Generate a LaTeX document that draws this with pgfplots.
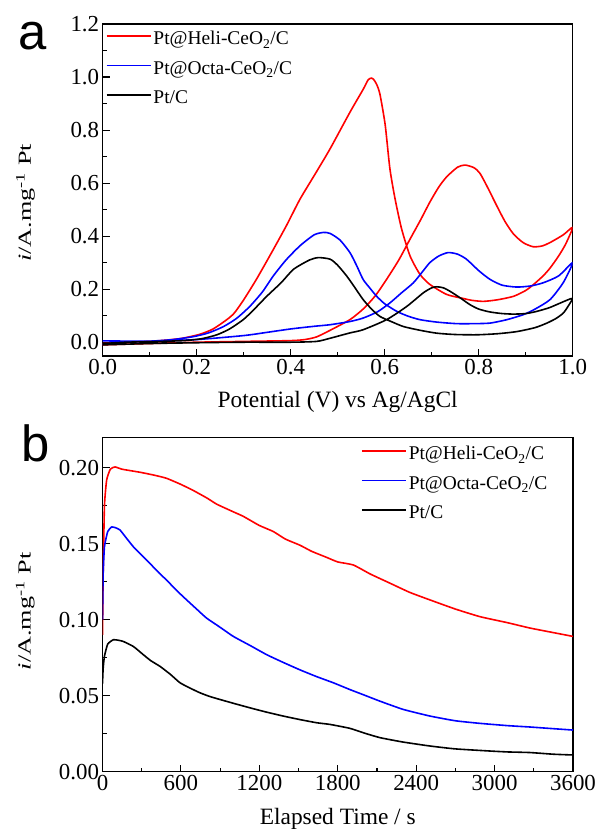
\documentclass[border=0pt]{standalone}
\usepackage{fontspec}
\setmainfont{Liberation Serif}
\setsansfont{Liberation Sans}
\usepackage{pgfplots}
\pgfplotsset{compat=1.18}

\newcommand\tickfont{\fontsize{23}{27}\selectfont}
\newcommand\labfont{\fontsize{23.5}{27}\selectfont}
\newcommand\legfont{\fontsize{19.5}{23}\selectfont}
\newcommand\ylab{\scalebox{1.42}[1]{\fontsize{18.5}{22}\selectfont\textit{i}/A.mg\textsuperscript{-1} Pt}}

\definecolor{cred}{RGB}{255,0,0}
\definecolor{cblue}{RGB}{0,0,255}

\pgfplotsset{
  myax/.style={
    scale only axis, width=470bp,
    axis line style={line width=1.3bp},
    tick style={line width=1.1bp, black},
    major tick length=7bp, minor tick length=4bp,
    tick align=inside, tick pos=left,
    ticklabel style={font=\tickfont},
    /pgf/number format/assume math mode=true,
    every axis plot/.append style={line width=1.6bp},
    legend style={draw=none, fill=none, font=\legfont, cells={anchor=west}, row sep=11bp},
    legend image code/.code={\draw[##1, line width=1.6bp, sharp plot] (0bp,0.3em) -- (44bp,0.3em);},
    xlabel style={font=\labfont, at={(axis description cs:0.5,0)}, anchor=base},
    ylabel style={anchor=base},
  }
}

\begin{document}
\begin{tikzpicture}
\useasboundingbox (0,0) rectangle (598bp,831bp);

\node[anchor=base west, inner sep=0pt] at (18bp,781bp) {\fontsize{51}{51}\selectfont\sffamily a};
\node[anchor=base west, inner sep=0pt] at (21.5bp,369.3bp) {\fontsize{51}{51}\selectfont\sffamily b};

% ---------------- panel a ----------------
\begin{axis}[myax,
  at={(102.7bp,475bp)}, anchor=south west, height=332bp,
  xmin=0, xmax=1, ymin=-0.052, ymax=1.2,
  xtick={0,0.2,0.4,0.6,0.8,1.0}, minor x tick num=1,
  ytick={0,0.2,0.4,0.6,0.8,1.0,1.2}, minor y tick num=1,
  xticklabel style={/pgf/number format/.cd, fixed, fixed zerofill, precision=1},
  yticklabel style={/pgf/number format/.cd, fixed, fixed zerofill, precision=1},
  xlabel={Potential (V) vs Ag/AgCl},
  xlabel style={yshift=-52bp},
  ylabel={\ylab},
  ylabel style={at={(axis description cs:-0.1526,0.461)}},
  legend style={at={(axis description cs:0.0,0.99)}, anchor=north west},
]
\addplot[cred, smooth, tension=0.4] coordinates {
(0,-0.01)(0.1,-0.005)(0.2,0.0)(0.3,0.003)(0.4,0.006)(0.43,0.01)(0.455,0.02)(0.484,0.045)(0.526,0.085)(0.554,0.125)(0.58,0.175)(0.604,0.237)(0.63,0.31)(0.654,0.389)(0.676,0.46)(0.696,0.528)(0.715,0.585)(0.732,0.624)(0.755,0.66)(0.771,0.668)(0.79,0.658)(0.803,0.636)(0.82,0.58)(0.838,0.516)(0.856,0.455)(0.874,0.408)(0.895,0.375)(0.916,0.36)(0.935,0.363)(0.952,0.376)(0.98,0.405)(1.0,0.433)
(0.985,0.37)(0.97,0.325)(0.952,0.28)(0.937,0.25)(0.915,0.215)(0.9,0.195)(0.874,0.173)(0.84,0.16)(0.81,0.154)(0.785,0.158)(0.767,0.165)(0.732,0.18)(0.696,0.218)(0.675,0.256)(0.654,0.325)(0.636,0.427)(0.622,0.541)(0.611,0.655)(0.601,0.82)(0.59,0.934)(0.583,0.972)(0.576,0.992)(0.572,0.996)(0.565,0.99)(0.554,0.953)(0.526,0.867)(0.484,0.73)(0.455,0.643)(0.42,0.54)(0.391,0.44)(0.36,0.34)(0.327,0.237)(0.3,0.16)(0.28,0.11)(0.264,0.085)(0.235,0.05)(0.207,0.03)(0.17,0.015)(0.136,0.008)(0.1,0.003)(0.05,0.0)(0,-0.005)
};
\addlegendentry{Pt@Heli-CeO\textsubscript{2}/C}
\addplot[cblue, smooth, tension=0.4] coordinates {
(0,0.005)(0.1,0.004)(0.2,0.01)(0.3,0.025)(0.349,0.037)(0.4,0.05)(0.45,0.06)(0.484,0.066)(0.526,0.078)(0.554,0.091)(0.585,0.115)(0.611,0.148)(0.635,0.185)(0.661,0.224)(0.68,0.265)(0.696,0.30)(0.715,0.325)(0.735,0.338)(0.755,0.332)(0.774,0.313)(0.8,0.27)(0.824,0.237)(0.85,0.215)(0.881,0.208)(0.91,0.212)(0.937,0.224)(0.97,0.25)(1.0,0.30)
(0.98,0.225)(0.952,0.161)(0.92,0.125)(0.895,0.104)(0.86,0.085)(0.824,0.072)(0.79,0.07)(0.753,0.07)(0.71,0.076)(0.675,0.085)(0.65,0.098)(0.626,0.116)(0.6,0.145)(0.583,0.173)(0.568,0.205)(0.554,0.237)(0.54,0.29)(0.526,0.338)(0.505,0.385)(0.484,0.41)(0.47,0.414)(0.45,0.405)(0.42,0.364)(0.39,0.31)(0.363,0.25)(0.34,0.19)(0.313,0.135)(0.285,0.09)(0.257,0.059)(0.225,0.035)(0.193,0.021)(0.15,0.01)(0.112,0.005)(0.05,0.0)(0,-0.008)
};
\addlegendentry{Pt@Octa-CeO\textsubscript{2}/C}
\addplot[black, smooth, tension=0.4] coordinates {
(0,-0.01)(0.1,-0.005)(0.2,-0.002)(0.3,0.0)(0.4,0.0)(0.455,0.003)(0.484,0.015)(0.526,0.035)(0.554,0.047)(0.604,0.085)(0.647,0.135)(0.682,0.186)(0.7,0.205)(0.711,0.209)(0.725,0.205)(0.739,0.192)(0.76,0.168)(0.781,0.142)(0.8,0.125)(0.824,0.114)(0.85,0.108)(0.874,0.106)(0.9,0.108)(0.923,0.116)(0.95,0.13)(0.97,0.145)(0.99,0.16)(1.0,0.165)
(0.99,0.135)(0.98,0.11)(0.965,0.09)(0.945,0.072)(0.92,0.055)(0.881,0.04)(0.84,0.032)(0.796,0.028)(0.75,0.029)(0.711,0.034)(0.675,0.045)(0.64,0.059)(0.615,0.077)(0.59,0.097)(0.572,0.125)(0.554,0.161)(0.535,0.21)(0.519,0.25)(0.5,0.29)(0.484,0.313)(0.459,0.319)(0.44,0.31)(0.406,0.275)(0.38,0.225)(0.349,0.173)(0.32,0.12)(0.299,0.085)(0.27,0.05)(0.243,0.028)(0.21,0.013)(0.172,0.006)(0.1,0.002)(0.05,0.0)(0,-0.005)
};
\addlegendentry{Pt/C}
\end{axis}

% ---------------- panel b ----------------
\begin{axis}[myax,
  at={(102.5bp,59.3bp)}, anchor=south west, height=334.4bp, width=470.5bp,
  xmin=0, xmax=3600, ymin=0, ymax=0.22,
  xtick={0,600,1200,1800,2400,3000,3600}, minor x tick num=1,
  ytick={0,0.05,0.10,0.15,0.20}, minor y tick num=1,
  xticklabel style={/pgf/number format/.cd, fixed, set thousands separator={}},
  yticklabel style={/pgf/number format/.cd, fixed, fixed zerofill, precision=2},
  scaled y ticks=false, scaled x ticks=false,
  xlabel={Elapsed Time / s},
  xlabel style={yshift=-53bp},
  ylabel={\ylab},
  ylabel style={at={(axis description cs:-0.1526,0.48)}},
  legend style={at={(axis description cs:0.543,0.985)}, anchor=north west},
]
\addplot[cred, smooth, tension=0.3] coordinates {
(0,0.09)(5,0.13)(15,0.175)(32,0.192)(60,0.199)(96,0.2005)(150,0.199)(287,0.197)(400,0.195)(491,0.193)(600,0.189)(695,0.185)(800,0.18)(874,0.176)(1000,0.171)(1077,0.168)(1200,0.162)(1307,0.158)(1400,0.153)(1511,0.149)(1600,0.145)(1715,0.141)(1800,0.138)(1919,0.136)(2050,0.13)(2200,0.124)(2350,0.118)(2506,0.113)(2700,0.107)(2888,0.102)(3100,0.098)(3271,0.0945)(3450,0.0915)(3600,0.089)
};
\addlegendentry{Pt@Heli-CeO\textsubscript{2}/C}
\addplot[cblue, smooth, tension=0.3] coordinates {
(0,0.10)(5,0.13)(15,0.148)(40,0.158)(70,0.161)(100,0.1605)(134,0.159)(180,0.154)(236,0.148)(300,0.1425)(363,0.137)(430,0.131)(491,0.126)(570,0.119)(644,0.113)(720,0.107)(797,0.101)(900,0.095)(1001,0.089)(1130,0.083)(1256,0.077)(1380,0.072)(1511,0.067)(1640,0.0625)(1766,0.0585)(1894,0.054)(2000,0.0505)(2123,0.0464)(2300,0.041)(2506,0.0366)(2700,0.0335)(2888,0.0318)(3100,0.0303)(3271,0.0294)(3450,0.0283)(3600,0.0274)
};
\addlegendentry{Pt@Octa-CeO\textsubscript{2}/C}
\addplot[black, smooth, tension=0.3] coordinates {
(0,0.058)(5,0.068)(15,0.076)(40,0.084)(83,0.0868)(120,0.0865)(159,0.0857)(236,0.0824)(312,0.077)(370,0.073)(440,0.0693)(520,0.064)(593,0.0585)(670,0.055)(746,0.0519)(820,0.0495)(899,0.0475)(1010,0.0448)(1129,0.042)(1250,0.0393)(1383,0.0366)(1510,0.0343)(1639,0.0322)(1741,0.0311)(1894,0.0285)(2000,0.0255)(2123,0.0224)(2300,0.0195)(2506,0.0169)(2700,0.015)(2965,0.0136)(3100,0.013)(3271,0.0126)(3450,0.0115)(3600,0.011)
};
\addlegendentry{Pt/C}
\end{axis}
\end{tikzpicture}
\end{document}
